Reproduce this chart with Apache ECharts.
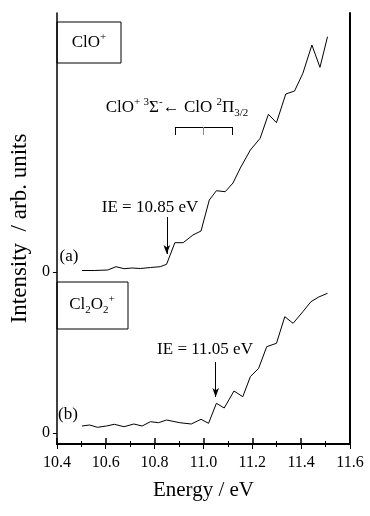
<!DOCTYPE html>
<html>
<head>
<meta charset="utf-8">
<script src="https://cdn.jsdelivr.net/npm/echarts@6/dist/echarts.min.js"></script>
<style>
  html, body { margin: 0; padding: 0; background: #fff; }
  #main { width: 370px; height: 516px; }
</style>
</head>
<body>
<div id="main"></div>
<script>
// ClO+ trace (a)
const energyA = [10.503, 10.554, 10.608, 10.642, 10.675, 10.707, 10.742, 10.783, 10.823, 10.849,
  10.883, 10.917, 10.957, 10.990, 11.024, 11.053, 11.089, 11.121, 11.151, 11.192,
  11.232, 11.266, 11.299, 11.337, 11.373, 11.407, 11.444, 11.477, 11.508]
const intensityA = [0.15, 0.15, 0.2, 0.53, 0.33, 0.4, 0.35, 0.45, 0.53, 0.77,
  2.93, 2.93, 3.7, 4.1, 7.2, 8.13, 8.03, 8.9, 10.4, 12.2,
  13.37, 15.77, 14.93, 17.8, 18.1, 19.87, 22.7, 20.47, 23.53]
// Cl2O2+ trace (b)
const energyB = [10.503, 10.534, 10.566, 10.603, 10.635, 10.675, 10.715, 10.749, 10.783, 10.816,
  10.849, 10.903, 10.950, 10.990, 11.021, 11.053, 11.085, 11.125, 11.161, 11.192,
  11.226, 11.259, 11.299, 11.333, 11.367, 11.407, 11.440, 11.472, 11.508]
const intensityB = [0.7, 0.8, 0.57, 0.7, 0.87, 0.63, 0.9, 0.7, 1.13, 1.03,
  1.3, 1.03, 0.9, 1.37, 0.97, 2.97, 2.5, 4.2, 3.63, 5.63,
  6.47, 8.63, 8.97, 11.63, 10.97, 12.13, 13.13, 13.6, 13.97]
// vertical offsets of the two traces (axis units)
const offsetA = 17.2
const offsetB = 1.1
// ionisation energies marked with arrows
const ieA = 10.85
const ieB = 11.05
// vibrational bracket (eV)
const bracketE = [10.883, 11.0, 11.117]

const serif = 'Liberation Serif'
const sub = { fontSize: 11, lineHeight: 11, verticalAlign: 'bottom', fontFamily: serif, color: '#000' }
const sup = { fontSize: 11, lineHeight: 11, verticalAlign: 'top', fontFamily: serif, color: '#000' }
const n = { fontSize: 17, lineHeight: 22, fontFamily: serif, color: '#000' }

const chart = echarts.init(document.getElementById('main'))

const dataA = energyA.map((e, i) => [e, intensityA[i] + offsetA])
const dataB = energyB.map((e, i) => [e, intensityB[i] + offsetB])

const black = { color: '#000', width: 1, type: 'solid' }

const option = {
  animation: false,
  grid: { left: 52, right: 20, top: 13, bottom: 72 },
  xAxis: [
    {
      type: 'value',
      min: 10.4,
      max: 11.6,
      interval: 0.2,
      name: 'Energy / eV',
      nameLocation: 'middle',
      nameGap: 36,
      nameTextStyle: { fontFamily: serif, fontSize: 21, color: '#000' },
      axisLine: { lineStyle: { color: '#000', width: 2 } },
      axisTick: { inside: true, length: 6, lineStyle: { color: '#000', width: 1.5 } },
      minorTick: { show: true, splitNumber: 2, length: 3, lineStyle: { color: '#000' } },
      axisLabel: {
        fontFamily: serif, fontSize: 16, color: '#000', margin: 11,
        formatter: v => v.toFixed(1)
      },
      splitLine: { show: false }
    },
    {
      type: 'value',
      position: 'top',
      min: 10.4,
      max: 11.6,
      interval: 0.2,
      axisLine: { lineStyle: { color: '#000', width: 1 } },
      axisTick: { inside: true, length: 5, lineStyle: { color: '#000' } },
      minorTick: { show: true, splitNumber: 2, length: 3, lineStyle: { color: '#000' } },
      axisLabel: { show: false },
      splitLine: { show: false }
    }
  ],
  yAxis: [
    {
      type: 'value',
      min: 0,
      max: 43.1,
      name: 'Intensity  / arb. units',
      nameLocation: 'middle',
      nameGap: 19,
      nameTextStyle: { fontFamily: serif, fontSize: 23, color: '#000' },
      axisLine: { show: true, lineStyle: { color: '#000', width: 1.5 } },
      axisTick: { show: true, length: 4, customValues: [offsetB, offsetA], lineStyle: { color: '#000' } },
      axisLabel: {
        fontFamily: serif, fontSize: 16, color: '#000', margin: 7,
        customValues: [offsetB, offsetA],
        formatter: () => '0'
      },
      splitLine: { show: false }
    },
    {
      type: 'value',
      position: 'right',
      min: 0,
      max: 43.1,
      axisLine: { show: true, lineStyle: { color: '#000', width: 2 } },
      axisTick: { show: false },
      axisLabel: { show: false },
      splitLine: { show: false }
    }
  ],
  series: [
    {
      type: 'line',
      data: dataA,
      symbol: 'none',
      lineStyle: { color: '#000', width: 1 },
      markLine: {
        silent: true,
        symbol: 'none',
        label: { show: false },
        lineStyle: black,
        data: [
          [{ coord: [ieA, offsetA + 5.5], symbol: 'none' }, { coord: [ieA, offsetA + 1.8], symbol: 'arrow', symbolSize: [5, 9] }],
          [{ coord: [bracketE[0], offsetA + 14.5] }, { coord: [bracketE[2], offsetA + 14.5] }],
          [{ coord: [bracketE[0], offsetA + 14.5] }, { coord: [bracketE[0], offsetA + 13.7] }],
          [{ coord: [bracketE[2], offsetA + 14.5] }, { coord: [bracketE[2], offsetA + 13.7] }],
          [{ coord: [bracketE[1], offsetA + 14.5], lineStyle: { color: '#888' } }, { coord: [bracketE[1], offsetA + 13.7] }]
        ]
      }
    },
    {
      type: 'line',
      data: dataB,
      symbol: 'none',
      lineStyle: { color: '#000', width: 1 },
      markLine: {
        silent: true,
        symbol: 'none',
        label: { show: false },
        lineStyle: black,
        data: [
          [{ coord: [ieB, offsetB + 7.1], symbol: 'none' }, { coord: [ieB, offsetB + 3.6], symbol: 'arrow', symbolSize: [5, 9] }]
        ]
      }
    }
  ],
  graphic: [
    { type: 'rect', shape: { x: 57, y: 22, width: 64, height: 41 }, style: { fill: '#fff', stroke: '#000', lineWidth: 1 } },
    { type: 'text', x: 89, y: 43, style: { text: '{n|ClO}{sup|+}', rich: { n, sup }, align: 'center', verticalAlign: 'middle' } },
    { type: 'rect', shape: { x: 57, y: 282, width: 71, height: 47 }, style: { fill: '#fff', stroke: '#000', lineWidth: 1 } },
    { type: 'text', x: 92, y: 305, style: { text: '{n|Cl}{sub|2}{n|O}{sub|2}{sup|+}', rich: { n, sub, sup }, align: 'center', verticalAlign: 'middle' } },
    {
      type: 'text', x: 177, y: 108,
      style: {
        text: '{n|ClO}{sup|+} {sup|3}{n|Σ}{sup|-}{n|← ClO }{sup|2}{n|Π}{sub|3/2}',
        rich: { n, sub, sup }, align: 'center', verticalAlign: 'middle'
      }
    },
    { type: 'text', x: 150, y: 208, style: { text: 'IE = 10.85 eV', font: '17px "Liberation Serif"', fill: '#000', align: 'center', verticalAlign: 'middle' } },
    { type: 'text', x: 205, y: 350, style: { text: 'IE = 11.05 eV', font: '17px "Liberation Serif"', fill: '#000', align: 'center', verticalAlign: 'middle' } },
    { type: 'text', x: 69, y: 257, style: { text: '(a)', font: '17px "Liberation Serif"', fill: '#000', align: 'center', verticalAlign: 'middle' } },
    { type: 'text', x: 68, y: 415, style: { text: '(b)', font: '17px "Liberation Serif"', fill: '#000', align: 'center', verticalAlign: 'middle' } }
  ]
}

chart.setOption(option)
window.addEventListener('resize', function() {
  chart.resize()
})
</script>
</body>
</html>
